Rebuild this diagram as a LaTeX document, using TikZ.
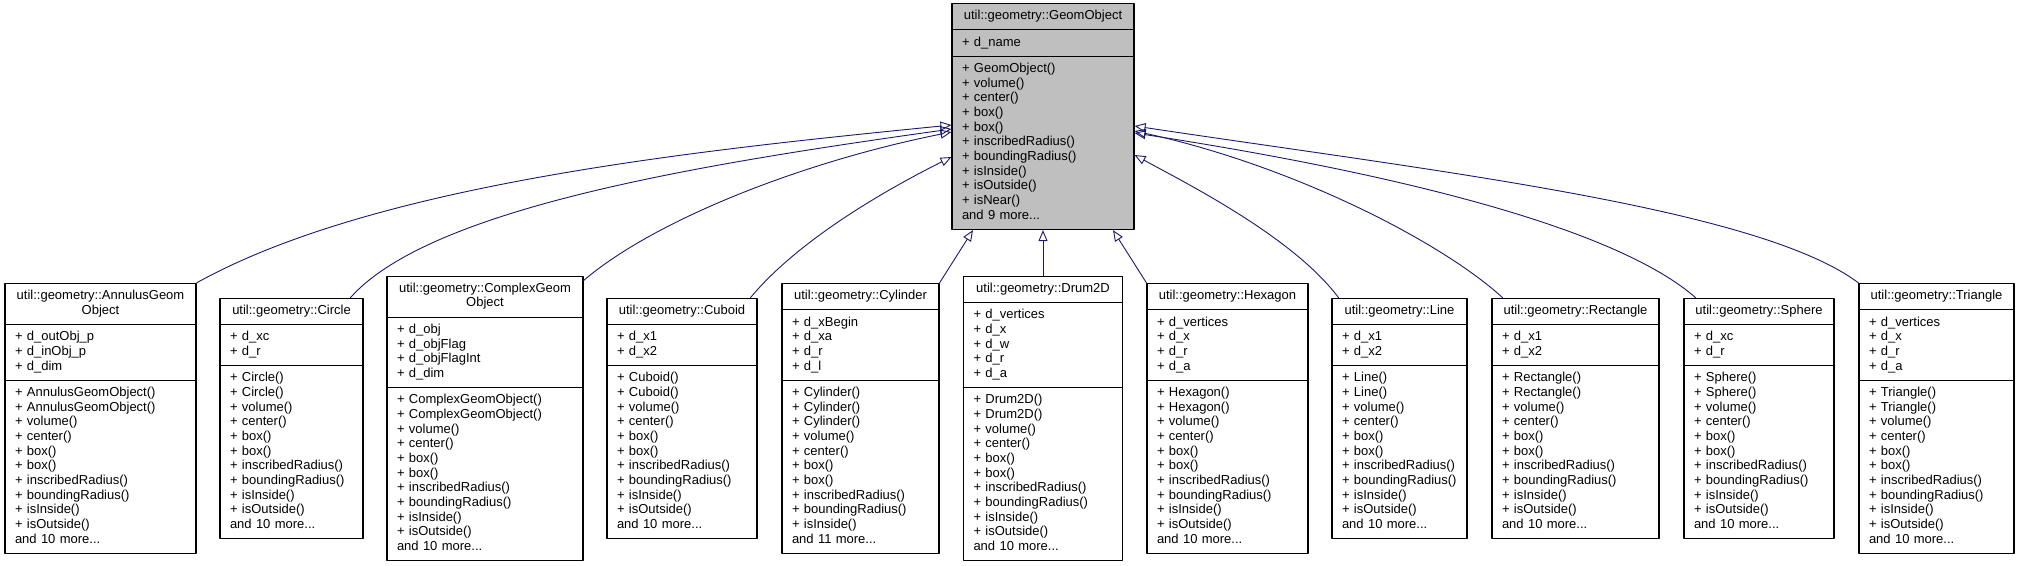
\documentclass[tikz,border=0pt]{standalone}
\usepackage{fontspec}
\setmainfont{Liberation Sans}
\usetikzlibrary{arrows.meta,shapes.multipart}
\definecolor{edgeblue}{HTML}{191970}
\definecolor{basegray}{HTML}{BFBFBF}
\hyphenpenalty=10000
\exhyphenpenalty=10000
\newcommand{\ctitle}[1]{\makebox[\hsize]{\strut#1}}
% name, position, text width, title, attributes, methods
\newcommand{\classnode}[7][]{%
  \node[cls,text width=#4,#1] (#2) at (#3)
    {#5\nodepart{two}\strut#6\strut\nodepart{three}\strut#7\strut};
}

\begin{document}
\begin{tikzpicture}[x=1pt, y=-1pt, line cap=round, line join=round]
\tikzset{cls/.style={rectangle split, rectangle split parts=3, draw=black, line width=1.1pt,
    inner xsep=10pt, inner ysep=5.35pt, align=left, font=\fontsize{13}{14.67}\selectfont},
  inherit/.style={draw=edgeblue, line width=0.9pt, -{Triangle[open, length=11pt, width=9pt]}}}
\useasboundingbox (0,0) rectangle (2019,565);

% base class
\classnode[fill=basegray]{geom}{1043,116.5}{162pt}{\ctitle{util::geometry::GeomObject}}{+ d\_name}
  {+ GeomObject()\\+ volume()\\+ center()\\+ box()\\+ box()\\+ inscribedRadius()\\+ boundingRadius()\\+ isInside()\\+ isOutside()\\+ isNear()\\and 9 more...}

% derived classes (centres on y = 418.5)
\classnode{annulus}{100.5,418.5}{171pt}{\ctitle{util::geometry::AnnulusGeom}\\\ctitle{Object}}{+ d\_outObj\_p\\+ d\_inObj\_p\\+ d\_dim}
  {+ AnnulusGeomObject()\\+ AnnulusGeomObject()\\+ volume()\\+ center()\\+ box()\\+ box()\\+ inscribedRadius()\\+ boundingRadius()\\+ isInside()\\+ isOutside()\\and 10 more...}
\classnode{circ}{291.5,418.5}{123pt}{\ctitle{util::geometry::Circle}}{+ d\_xc\\+ d\_r}
  {+ Circle()\\+ Circle()\\+ volume()\\+ center()\\+ box()\\+ box()\\+ inscribedRadius()\\+ boundingRadius()\\+ isInside()\\+ isOutside()\\and 10 more...}
\classnode{complexgeom}{485,418.5}{176pt}{\ctitle{util::geometry::ComplexGeom}\\\ctitle{Object}}{+ d\_obj\\+ d\_objFlag\\+ d\_objFlagInt\\+ d\_dim}
  {+ ComplexGeomObject()\\+ ComplexGeomObject()\\+ volume()\\+ center()\\+ box()\\+ box()\\+ inscribedRadius()\\+ boundingRadius()\\+ isInside()\\+ isOutside()\\and 10 more...}
\classnode{cuboid}{682,418.5}{130pt}{\ctitle{util::geometry::Cuboid}}{+ d\_x1\\+ d\_x2}
  {+ Cuboid()\\+ Cuboid()\\+ volume()\\+ center()\\+ box()\\+ box()\\+ inscribedRadius()\\+ boundingRadius()\\+ isInside()\\+ isOutside()\\and 10 more...}
\classnode{cylinder}{860.5,418.5}{137pt}{\ctitle{util::geometry::Cylinder}}{+ d\_xBegin\\+ d\_xa\\+ d\_r\\+ d\_l}
  {+ Cylinder()\\+ Cylinder()\\+ Cylinder()\\+ volume()\\+ center()\\+ box()\\+ box()\\+ inscribedRadius()\\+ boundingRadius()\\+ isInside()\\and 11 more...}
\classnode{drum}{1043,418.5}{139pt}{\ctitle{util::geometry::Drum2D}}{+ d\_vertices\\+ d\_x\\+ d\_w\\+ d\_r\\+ d\_a}
  {+ Drum2D()\\+ Drum2D()\\+ volume()\\+ center()\\+ box()\\+ box()\\+ inscribedRadius()\\+ boundingRadius()\\+ isInside()\\+ isOutside()\\and 10 more...}
\classnode{hexagon}{1227.5,418.5}{141pt}{\ctitle{util::geometry::Hexagon}}{+ d\_vertices\\+ d\_x\\+ d\_r\\+ d\_a}
  {+ Hexagon()\\+ Hexagon()\\+ volume()\\+ center()\\+ box()\\+ box()\\+ inscribedRadius()\\+ boundingRadius()\\+ isInside()\\+ isOutside()\\and 10 more...}
\classnode{segline}{1399.5,418.5}{115pt}{\ctitle{util::geometry::Line}}{+ d\_x1\\+ d\_x2}
  {+ Line()\\+ Line()\\+ volume()\\+ center()\\+ box()\\+ box()\\+ inscribedRadius()\\+ boundingRadius()\\+ isInside()\\+ isOutside()\\and 10 more...}
\classnode{rect}{1575.5,418.5}{147pt}{\ctitle{util::geometry::Rectangle}}{+ d\_x1\\+ d\_x2}
  {+ Rectangle()\\+ Rectangle()\\+ volume()\\+ center()\\+ box()\\+ box()\\+ inscribedRadius()\\+ boundingRadius()\\+ isInside()\\+ isOutside()\\and 10 more...}
\classnode{sphere}{1759,418.5}{130pt}{\ctitle{util::geometry::Sphere}}{+ d\_xc\\+ d\_r}
  {+ Sphere()\\+ Sphere()\\+ volume()\\+ center()\\+ box()\\+ box()\\+ inscribedRadius()\\+ boundingRadius()\\+ isInside()\\+ isOutside()\\and 10 more...}
\classnode{triangle}{1936.5,418.5}{135pt}{\ctitle{util::geometry::Triangle}}{+ d\_vertices\\+ d\_x\\+ d\_r\\+ d\_a}
  {+ Triangle()\\+ Triangle()\\+ volume()\\+ center()\\+ box()\\+ box()\\+ inscribedRadius()\\+ boundingRadius()\\+ isInside()\\+ isOutside()\\and 10 more...}

% inheritance edges
\draw[inherit] (annulus.north east) .. controls +(180,-100) and +(-250,25) .. ([yshift=-8.5pt]geom.west);
\draw[inherit] ([xshift=-13pt]circ.north east) .. controls +(80,-90) and +(-250,35) .. ([yshift=-12.5pt]geom.west);
\draw[inherit] ([yshift=-5pt]complexgeom.north east) .. controls +(70,-60) and +(-150,30) .. ([yshift=-15.5pt]geom.west);
\draw[inherit] ([xshift=-7pt]cuboid.north east) .. controls +(50,-60) and +(-60,30) .. ([yshift=-40.5pt]geom.west);
\draw[inherit] (cylinder.north east) -- ([xshift=-70pt]geom.south);
\draw[inherit] (drum.north) -- (geom.south);
\draw[inherit] (hexagon.north west) -- ([xshift=70pt]geom.south);
\draw[inherit] ([xshift=7pt]segline.north west) .. controls +(-45,-60) and +(55,30) .. ([yshift=-38.5pt]geom.east);
\draw[inherit] ([xshift=11pt]rect.north west) .. controls +(-60,-55) and +(160,35) .. ([yshift=-14.5pt]geom.east);
\draw[inherit] ([xshift=12pt]sphere.north west) .. controls +(-80,-70) and +(260,40) .. ([yshift=-16.5pt]geom.east);
\draw[inherit] (triangle.north west) .. controls +(-100,-75) and +(300,45) .. ([yshift=-9.5pt]geom.east);
\end{tikzpicture}
\end{document}
